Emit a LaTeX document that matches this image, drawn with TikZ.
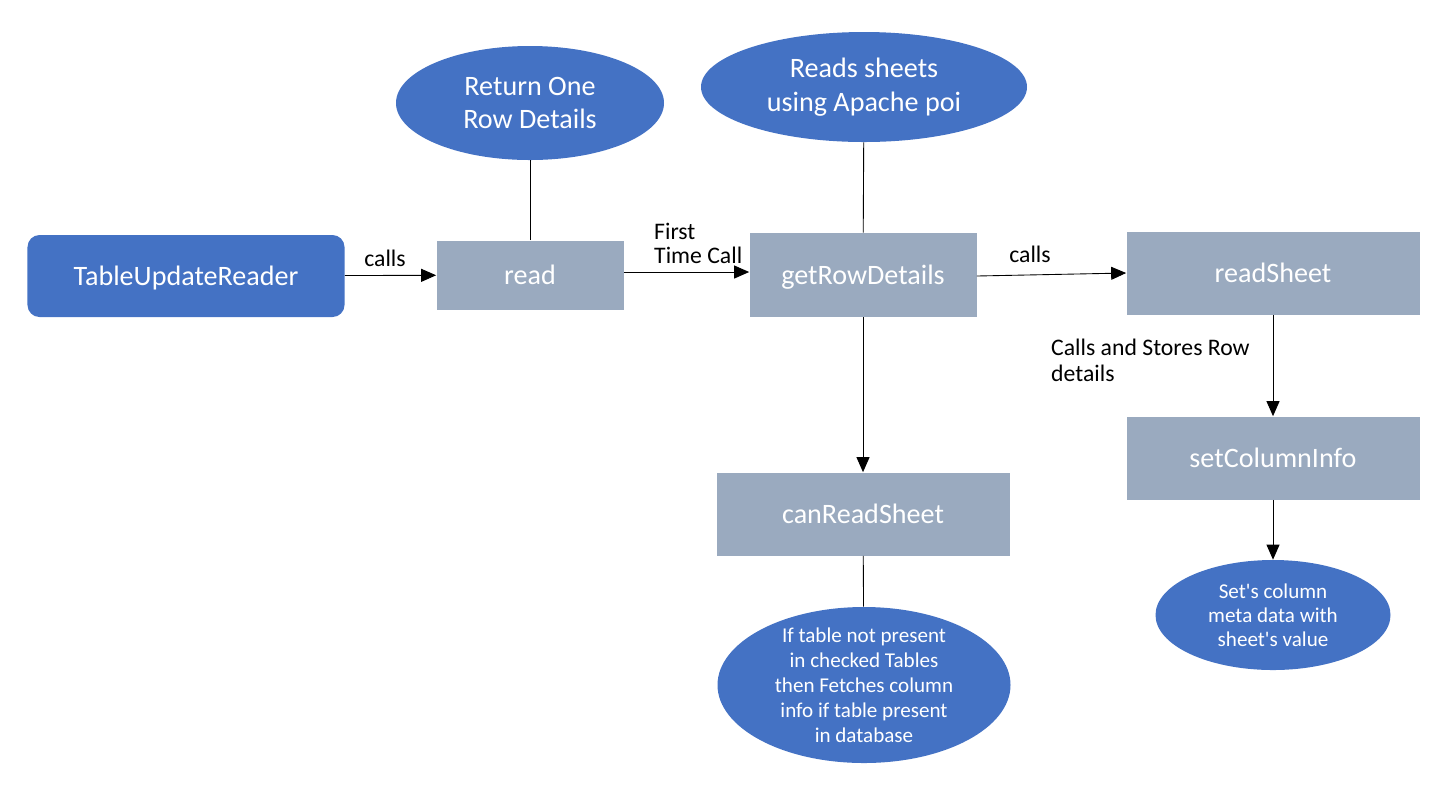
\documentclass[tikz,border=0pt]{standalone}
\usepackage{fontspec}
\setmainfont{Carlito}
\usetikzlibrary{arrows.meta,shapes.geometric}
\definecolor{nodeblue}{HTML}{4472C4}
\definecolor{boxgray}{HTML}{9AAABF}
\tikzset{
  method/.style={fill=boxgray,text=white,font=\fontsize{16}{19}\selectfont,inner sep=0pt,text height=2.5ex,text depth=0.2ex},
  reader/.style={fill=nodeblue,text=white,rounded corners=2.4mm,font=\fontsize{16}{19}\selectfont,inner sep=0pt,text height=2.5ex,text depth=0.2ex},
  note/.style={ellipse,fill=nodeblue,text=white,align=center,inner sep=0pt},
  call/.style={-{Triangle[length=3mm,width=2.6mm]},line width=0.5pt},
  link/.style={line width=0.5pt},
  lbl/.style={font=\fontsize{13.5}{14.5}\selectfont,align=left}
}
\begin{document}
\begin{tikzpicture}[x=0.2mm,y=-0.2mm]
    \useasboundingbox (0,0) rectangle (1445,797);
    %
    \node[reader,minimum width=63.4mm,minimum height=16.4mm] (reader) at (186,276) {TableUpdateReader};
    \node[method,minimum width=37.4mm,minimum height=13.8mm] (read) at (530,275) {read};
    \node[method,minimum width=45.4mm,minimum height=16.8mm] (rowdet) at (863,275) {getRowDetails};
    \node[method,minimum width=58.6mm,minimum height=16.6mm] (sheet) at (1273,273) {readSheet};
    \node[method,minimum width=58.6mm,minimum height=16.6mm] (colinfo) at (1273,458) {setColumnInfo};
    \node[method,minimum width=58.6mm,minimum height=16.6mm] (canread) at (863,514) {canReadSheet};
    %
    \node[note,minimum width=53.6mm,minimum height=22.8mm,inner ysep=-1mm,font=\fontsize{16}{19.3}\selectfont] (rownote) at (530,103) {Return One\\Row Details};
    \node[note,minimum width=65.2mm,minimum height=22mm,inner ysep=-1mm,font=\fontsize{16}{19.3}\selectfont] (poinote) at (864,87) {Reads sheets\\using Apache poi};
    \node[note,minimum width=58.6mm,minimum height=31.2mm,inner ysep=-2.2mm,inner xsep=-3mm,font=\fontsize{12}{14.2}\selectfont] (dbnote) at (864,685)
      {If table not present\\in checked Tables\\then Fetches column\\info if table present\\in database};
    \node[note,minimum width=47mm,minimum height=22mm,inner ysep=-1.5mm,inner xsep=-2mm,font=\fontsize{12}{13.7}\selectfont] (metanote) at (1273,615)
      {Set\textquotesingle s column\\meta data with\\sheet\textquotesingle s value};
    %
    \draw[call] (reader) -- (read);
    \node[lbl] (calls1) at (385,258) {calls};
    \draw[call] (read.east |- 0,272) -- (rowdet.west |- 0,272);
    \node[lbl,anchor=north west,font=\fontsize{13.5}{13.6}\selectfont] (firstlbl) at (648,217) {First\\Time Call};
    \draw[call] (rowdet.east |- 0,276) -- (sheet.west |- 0,273);
    \node[lbl] (calls2) at (1030,254) {calls};
    \draw[link] (read) -- (rownote);
    \draw[link] (rowdet) -- (poinote);
    \draw[call] (rowdet) -- (canread);
    \draw[link] (canread) -- (dbnote);
    \draw[call] (sheet) -- (colinfo);
    \node[lbl,anchor=north west] (storelbl) at (1045,333) {Calls and Stores Row\\details};
    \draw[call] (colinfo) -- (metanote);
\end{tikzpicture}
\end{document}
